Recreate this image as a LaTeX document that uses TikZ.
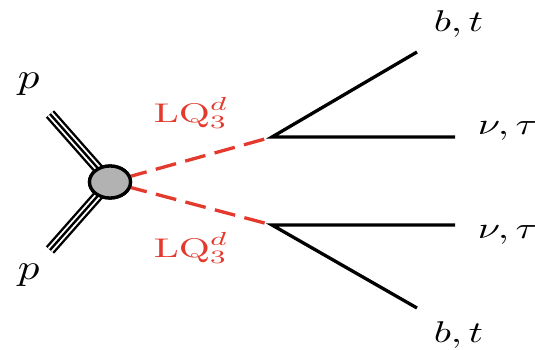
\documentclass[tikz,border=0pt]{standalone}
\usetikzlibrary{shapes.geometric}
\definecolor{lqred}{RGB}{228,58,46}
\begin{document}
\begin{tikzpicture}[x=1pt,y=-1pt,
  lbl/.style={inner sep=0pt,anchor=base west,xscale=4,yscale=3},
  plbl/.style={inner sep=0pt,anchor=base west,xscale=4.3,yscale=3.6},
  lqlbl/.style={inner sep=0pt,anchor=base west,xscale=4,yscale=2.7,text=lqred},
  fermion/.style={line width=3.3pt,line join=miter},
  lq/.style={lqred,line width=3.3pt,dash pattern=on 21pt off 9.5pt,dash phase=13.5pt},
  proton/.style={line width=2.4pt,double distance=6.2pt},
  blobstyle/.style={ellipse,draw,line width=3.3pt,fill=black!30,minimum width=41pt,minimum height=32pt,inner sep=0pt}]
\useasboundingbox (0,0) rectangle (535,350);
\coordinate (pin1) at (50,114);
\coordinate (pin2) at (50,250);
\node[blobstyle] (blob) at (110,182) {};
\coordinate (v1) at (272,137);
\coordinate (v2) at (272,225);
\coordinate (o1) at (417,52);
\coordinate (o2) at (455,137);
\coordinate (o3) at (455,225);
\coordinate (o4) at (417,308);
% protons
\draw[proton] (pin1) -- (blob.center);
\draw[line width=2.4pt] (pin1) -- (blob.center);
\draw[proton] (pin2) -- (blob.center);
\draw[line width=2.4pt] (pin2) -- (blob.center);
% leptoquarks
\draw[lq] (blob.center) -- (v1);
\draw[lq] (blob.center) -- (v2);
% decays
\draw[fermion] (o1) -- (v1) -- (o2);
\draw[fermion] (o4) -- (v2) -- (o3);
\node[blobstyle] at (blob) {};
% labels
\node[plbl] (lp1) at (17,89) {$p$};
\node[plbl] (lp2) at (17,279) {$p$};
\node[lqlbl] (lq1) at (153,122) {$\mathrm{LQ}_3^d$};
\node[lqlbl] (lq2) at (153,257) {$\mathrm{LQ}_3^d$};
\node[lbl] (bt1) at (433,32) {$b,t$};
\node[lbl] (nt1) at (477,135) {$\nu,\tau$};
\node[lbl] (nt2) at (477,238) {$\nu,\tau$};
\node[lbl] (bt2) at (433,342) {$b,t$};
\end{tikzpicture}
\end{document}
